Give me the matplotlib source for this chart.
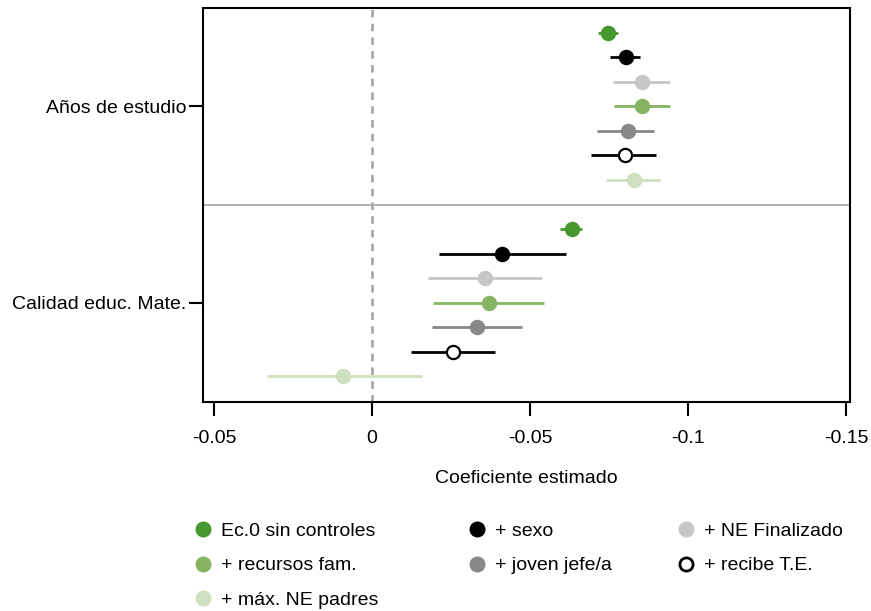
import matplotlib
matplotlib.use("Agg")
import matplotlib.pyplot as plt
from matplotlib.lines import Line2D

plt.rcParams['font.family'] = ['Liberation Sans', 'DejaVu Sans']

# Modelos (orden de aparición dentro de cada grupo)
modelos = ["Ec.0 sin controles", "+ sexo", "+ NE Finalizado", "+ recursos fam.",
           "+ joven jefe/a", "+ recibe T.E.", "+ máx. NE padres"]
colores = ["#47972f", "#000000", "#c6c6c6", "#86b462", "#888888", "#000000", "#cfe0c0"]
relleno = ["#47972f", "#000000", "#c6c6c6", "#86b462", "#888888", "#ffffff", "#cfe0c0"]

grupos = ["Años de estudio", "Calidad educ. Mate."]

# Coeficientes y extremos de los intervalos
coef_anios = [-0.0747, -0.0804, -0.0854, -0.0854, -0.0810, -0.0801, -0.0829]
inf_anios = [-0.0715, -0.0759, -0.0766, -0.0766, -0.0728, -0.0703, -0.0747]
sup_anios = [-0.0778, -0.0854, -0.0946, -0.0943, -0.0908, -0.0908, -0.0918]

coef_cal = [-0.0632, -0.0412, -0.0359, -0.0369, -0.0332, -0.0257, 0.0091]
inf_cal = [-0.0598, -0.0210, -0.0180, -0.0193, -0.0190, -0.0126, 0.0339]
sup_cal = [-0.0668, -0.0612, -0.0540, -0.0546, -0.0475, -0.0390, -0.0151]

xticks = [0.05, 0, -0.05, -0.1, -0.15]
xtick_labels = ["-0.05", "0", "-0.05", "-0.1", "-0.15"]

fig = plt.figure(figsize=(8.71, 6.11), dpi=100)
ax = fig.add_axes([0.233, 0.342, 0.743, 0.645])

ax.axvline(0, color="#a0a0a0", ls=(0, (3, 2.5)), lw=1.8, zorder=1)
ax.axhline(7, color="#aaaaaa", lw=1.3, zorder=1)

for g, (coef, inf, sup) in enumerate([(coef_anios, inf_anios, sup_anios),
                                      (coef_cal, inf_cal, sup_cal)]):
    for i in range(len(modelos)):
        y = g * 8 + i
        lo = abs(coef[i] - inf[i])
        hi = abs(sup[i] - coef[i])
        ax.errorbar(coef[i], y, xerr=[[lo], [hi]], fmt="o", color=colores[i],
                    mfc=relleno[i], mec=colores[i], mew=1.6, ms=9.5,
                    elinewidth=2, capsize=0, zorder=3)

ax.set_xlim(0.0535, -0.1513)
ax.set_ylim(15.06, -1.02)
ax.set_xticks(xticks)
ax.set_xticklabels(xtick_labels)
ax.set_yticks([3, 11])
ax.set_yticklabels(grupos)
ax.tick_params(axis="both", length=10, width=1.5, labelsize=14)
ax.tick_params(axis="x", pad=10)
ax.tick_params(axis="y", pad=2)
for s in ax.spines.values():
    s.set_linewidth(1.5)
ax.set_xlabel("Coeficiente estimado", fontsize=14, labelpad=17)

handles = [Line2D([], [], ls="none", marker="o", color=colores[i], mfc=relleno[i],
                  mec=colores[i], mew=2, ms=9.5) for i in range(len(modelos))]

# una leyenda por columna
columnas = [[0, 3, 6], [1, 4], [2, 5]]
x_col = [0.222, 0.5365, 0.7765]
for idx, xc in zip(columnas, x_col):
    fig.legend([handles[i] for i in idx], [modelos[i] for i in idx],
               loc="upper left", bbox_to_anchor=(xc, 0.1455), frameon=False,
               fontsize=14, handletextpad=0.4, handlelength=1.0,
               labelspacing=0.88, borderpad=0, borderaxespad=0)

fig.savefig("out.png", dpi=100)
